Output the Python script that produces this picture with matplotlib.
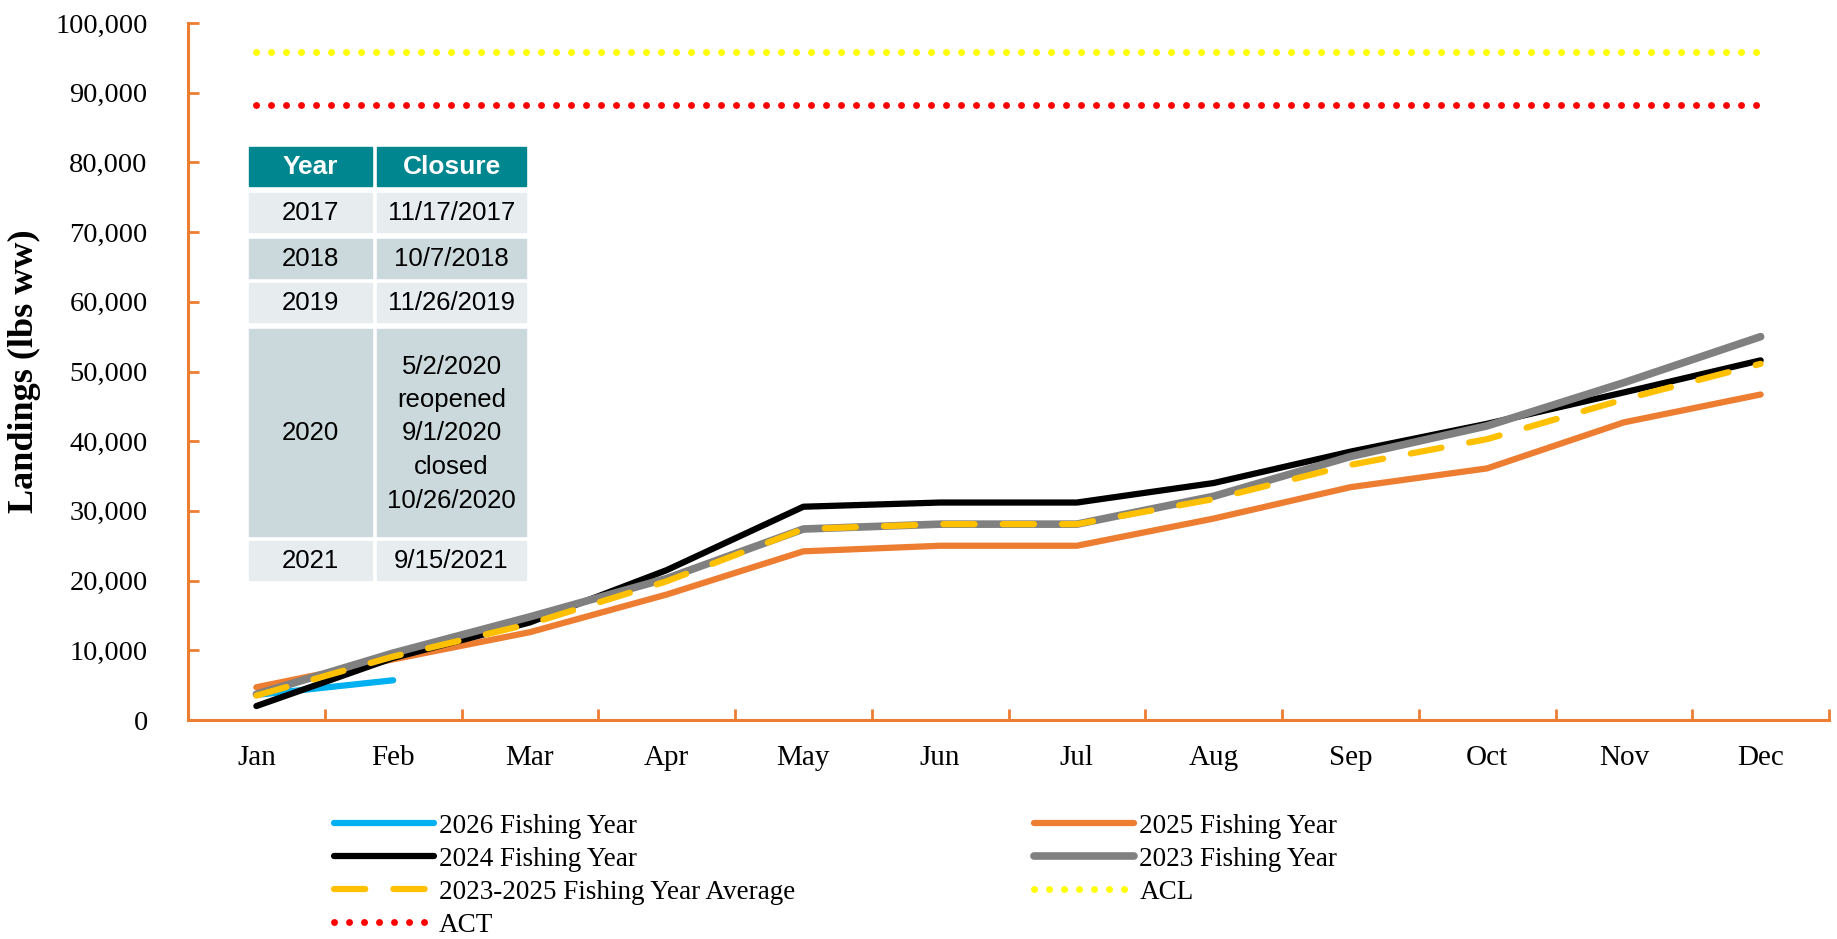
import matplotlib
matplotlib.use("Agg")
import matplotlib.pyplot as plt
from matplotlib.patches import Rectangle
from matplotlib.ticker import FuncFormatter, MultipleLocator

months = ["Jan", "Feb", "Mar", "Apr", "May", "Jun", "Jul", "Aug", "Sep", "Oct", "Nov", "Dec"]

fy2026 = [3600, 5700]
fy2025 = [4700, 8700, 12600, 18000, 24200, 25000, 25000, 28900, 33400, 36100, 42700, 46700]
fy2024 = [2000, 8900, 14000, 21500, 30600, 31200, 31200, 34000, 38500, 42500, 47000, 51600]
fy2023 = [3700, 9600, 14800, 20300, 27400, 28100, 28100, 32100, 37800, 42200, 48400, 55000]
fy_avg = [3500, 9100, 13800, 19900, 27400, 28100, 28100, 31700, 36600, 40300, 46000, 51100]
acl = [95844] * 12
act = [88176] * 12

tbl_years = ["2017", "2018", "2019", "2020", "2021"]
tbl_closure = ["11/17/2017", "10/7/2018", "11/26/2019",
               "5/2/2020\nreopened\n9/1/2020\nclosed\n10/26/2020", "9/15/2021"]

ORANGE = "#ED7D31"
W, H = 1837, 939

fig = plt.figure(figsize=(W / 100, H / 100), dpi=100)
ax = fig.add_axes([188 / W, 1 - 720 / H, (1829 - 188) / W, (720 - 23) / H])

x = list(range(12))
serif = "Liberation Serif"

h26, = ax.plot(x[:len(fy2026)], fy2026, color="#00B0F0", lw=4.5, solid_capstyle="round", zorder=2)
h25, = ax.plot(x, fy2025, color=ORANGE, lw=4.5, solid_capstyle="round", zorder=3)
h24, = ax.plot(x, fy2024, color="black", lw=4.5, solid_capstyle="round", zorder=4)
h23, = ax.plot(x, fy2023, color="#808080", lw=5.5, solid_capstyle="round", zorder=5)
havg, = ax.plot(x, fy_avg, color="#FFC000", lw=4.5, dashes=(5, 4.5), dash_capstyle="round", zorder=6)
hacl, = ax.plot(x, acl, color="#FFFF00", lw=5, linestyle=(0, (0.01, 2.15)), dash_capstyle="round", zorder=6)
hact, = ax.plot(x, act, color="#FF0000", lw=5, linestyle=(0, (0.01, 2.15)), dash_capstyle="round", zorder=6)

ax.set_xlim(-0.5, 11.5)
ax.set_ylim(0, 100000)
ax.set_xticks(x)
ax.set_xticklabels(months)
ax.xaxis.set_minor_locator(MultipleLocator(1, offset=0.5))
ax.yaxis.set_major_locator(MultipleLocator(10000))
ax.yaxis.set_major_formatter(FuncFormatter(lambda v, p: f"{int(v):,}"))

for s in ["top", "right"]:
    ax.spines[s].set_visible(False)
for s in ["left", "bottom"]:
    ax.spines[s].set_color(ORANGE)
    ax.spines[s].set_linewidth(2.2)

ax.tick_params(axis="x", which="major", length=0, pad=18, labelsize=21)
ax.tick_params(axis="x", which="minor", direction="in", length=8, width=2, color=ORANGE)
ax.tick_params(axis="y", direction="in", length=8, width=2, color=ORANGE, pad=29, labelsize=20.5)
for lab in ax.get_xticklabels() + ax.get_yticklabels():
    lab.set_fontfamily(serif)

ax.set_ylabel("Landings (lbs ww)", fontfamily=serif, fontsize=26, fontweight="bold", labelpad=10)

# closure table, drawn in figure pixels
tax = fig.add_axes([0, 0, 1, 1], zorder=10)
tax.set_xlim(0, W)
tax.set_ylim(H, 0)
tax.axis("off")
tax.patch.set_alpha(0)

col1 = (249, 372)
col2 = (377, 526)
rows = [(193, 232), (239, 278), (283, 322), (329, 536), (541, 580)]
light, dark = "#E7ECEF", "#CBD9DD"
teal = "#00868F"

for c, txt in [(col1, "Year"), (col2, "Closure")]:
    tax.add_patch(Rectangle((c[0], 147), c[1] - c[0], 39, color=teal))
    tax.text((c[0] + c[1]) / 2, 166.5, txt, color="white", fontsize=19, fontweight="bold",
             ha="center", va="center", fontfamily="Liberation Sans")

for i, (r, yr, cl) in enumerate(zip(rows, tbl_years, tbl_closure)):
    fc = light if i % 2 == 0 else dark
    for c, txt in [(col1, yr), (col2, cl)]:
        tax.add_patch(Rectangle((c[0], r[0]), c[1] - c[0], r[1] - r[0], color=fc))
        tax.text((c[0] + c[1]) / 2, (r[0] + r[1]) / 2 + 1, txt, fontsize=18.5, ha="center",
                 va="center", fontfamily="Liberation Sans", linespacing=1.5)

handles = [h26, h24, havg, hact, h25, h23, hacl]
labels = ["2026 Fishing Year", "2024 Fishing Year", "2023-2025 Fishing Year Average", "ACT",
          "2025 Fishing Year", "2023 Fishing Year", "ACL"]
leg = fig.legend(handles, labels, ncol=2, loc="upper left", bbox_to_anchor=(320 / W, 1 - 800 / H),
                 frameon=False, prop={"family": serif, "size": 19.5}, handlelength=3.7,
                 handletextpad=0.2, columnspacing=8.8, labelspacing=0.3, borderpad=0)

fig.savefig("out.png", dpi=100)
